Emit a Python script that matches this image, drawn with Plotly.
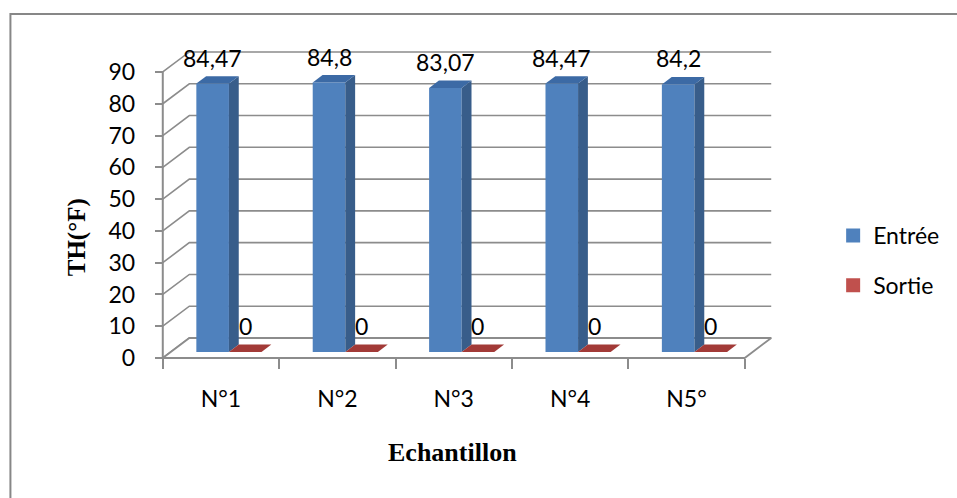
import plotly.graph_objects as go

# Data
categories = ["N°1", "N°2", "N°3", "N°4", "N5°"]
entree = [84.47, 84.8, 83.07, 84.47, 84.2]
sortie = [0, 0, 0, 0, 0]
series_names = ["Entrée", "Sortie"]
y_ticks = [0, 10, 20, 30, 40, 50, 60, 70, 80, 90]

# Canvas and scale (pixels)
W, H = 957, 498
UX = 118.4          # px per category unit
UY = 3.178          # px per value unit
X_FRONT = 163       # px of the front-left corner (x = -0.5)
Y_FRONT = 358       # px of the front floor (value 0)
L, R, T, B = 150, 795, 38, 366

xmin = -0.5 - (X_FRONT - L) / UX
xmax = -0.5 + (R - X_FRONT) / UX
ymin = -(B - Y_FRONT) / UY
ymax = (Y_FRONT - T) / UY

# pseudo-3D depth offsets (in axis units)
DX = 27 / UX
DY = 20 / UY
F0, F1 = 0.30, 0.67   # depth row of the bars
BW = 0.28             # bar width

GRID = "#8c8c8c"
FRONT = ["#4F81BD", "#C0504D"]
SIDE = ["#385D8A", "#8E3331"]
TOP = ["#3C6AA5", "#A23A37"]


def px_x(p):
    return (p - L) / (R - L)


def px_y(p):
    return (B - p) / (B - T)


fig = go.Figure()

# walls: left-side diagonals and back-wall gridlines
gx, gy = [], []
for v in y_ticks:
    gx += [-0.5, -0.5 + DX, 4.5 + DX, None]
    gy += [v, v + DY, v + DY, None]
fig.add_trace(go.Scatter(x=gx, y=gy, mode="lines", line=dict(color=GRID, width=1.6),
                         hoverinfo="skip", showlegend=False))

# floor
fig.add_trace(go.Scatter(
    x=[-0.5, 4.5, 4.5 + DX, -0.5 + DX, -0.5],
    y=[0, 0, DY, DY, 0],
    mode="lines", fill="toself", fillcolor="white",
    line=dict(color=GRID, width=1.8), hoverinfo="skip", showlegend=False))

# front value axis line
fig.add_trace(go.Scatter(x=[-0.5, -0.5], y=[0, max(y_ticks)], mode="lines",
                         line=dict(color=GRID, width=2), hoverinfo="skip", showlegend=False))


def face(xs, ys, color):
    fig.add_trace(go.Scatter(x=xs + [xs[0]], y=ys + [ys[0]], mode="lines", fill="toself",
                             fillcolor=color, line=dict(width=0, color=color),
                             hoverinfo="skip", showlegend=False))


annotations = []
for i, cat in enumerate(categories):
    for s, vals in enumerate([entree, sortie]):
        v = vals[i]
        xl = i - BW + s * BW
        xr = xl + BW
        a0x, a0y = F0 * DX, F0 * DY
        a1x, a1y = F1 * DX, F1 * DY
        # front face
        face([xl + a0x, xr + a0x, xr + a0x, xl + a0x],
             [a0y, a0y, v + a0y, v + a0y], FRONT[s])
        # right side face
        face([xr + a0x, xr + a1x, xr + a1x, xr + a0x],
             [a0y, a1y, v + a1y, v + a0y], SIDE[s])
        # top face
        face([xl + a0x, xr + a0x, xr + a1x, xl + a1x],
             [v + a0y, v + a0y, v + a1y, v + a1y], TOP[s])
        annotations.append(dict(
            x=(xl + xr) / 2 + a0x, y=v + a0y, xref="x", yref="y",
            text=f"{v:g}".replace(".", ","), showarrow=False,
            xanchor="center", yanchor="middle", yshift=26,
            font=dict(family="Lato", size=23, color="black")))

# legend entries
for s, name in enumerate(series_names):
    fig.add_trace(go.Scatter(x=[None], y=[None], mode="markers", name=name,
                             legendgroup=name,
                             marker=dict(symbol="square", size=14, color=FRONT[s])))

annotations.append(dict(x=px_x(76), y=px_y(237), xref="paper", yref="paper",
                        xanchor="center", yanchor="middle",
                        text="<b>TH(°F)</b>", textangle=-90, showarrow=False,
                        font=dict(family="Liberation Serif", size=25, color="black")))
annotations.append(dict(x=px_x(458), y=px_y(453), xref="paper", yref="paper",
                        xanchor="center", yanchor="middle",
                        text="<b>Echantillon</b>", showarrow=False,
                        font=dict(family="Liberation Serif", size=26, color="black")))

fig.update_layout(
    width=W, height=H,
    margin=dict(l=L, r=W - R, t=T, b=H - B, pad=0),
    paper_bgcolor="white", plot_bgcolor="white",
    font=dict(family="Lato", size=23, color="black"),
    xaxis=dict(range=[xmin, xmax], anchor="free", position=(B - Y_FRONT) / (B - T),
               tickvals=list(range(len(categories))), ticktext=categories,
               ticks="", showgrid=False, zeroline=False, showline=False,
               ticklabelstandoff=25,
               minor=dict(ticks="outside", tick0=-0.5, dtick=1, ticklen=10,
                          tickwidth=2, tickcolor=GRID, showgrid=False)),
    yaxis=dict(range=[ymin, ymax], anchor="free", position=(X_FRONT - L) / (R - L),
               tickvals=y_ticks, ticks="outside", ticklen=8, tickwidth=2, tickcolor=GRID,
               showgrid=False, zeroline=False, showline=False, ticklabelstandoff=15),
    legend=dict(x=px_x(845), y=px_y(260.5), xanchor="left", yanchor="middle",
                tracegroupgap=17, font=dict(family="Lato", size=23, color="black"),
                bgcolor="rgba(0,0,0,0)"),
    annotations=annotations,
    shapes=[dict(type="rect", xref="paper", yref="paper",
                 x0=px_x(8), y0=px_y(14), x1=px_x(980), y1=px_y(520),
                 line=dict(color="#878787", width=2), fillcolor="rgba(0,0,0,0)")],
    showlegend=True,
)

fig.write_html("out.html")
